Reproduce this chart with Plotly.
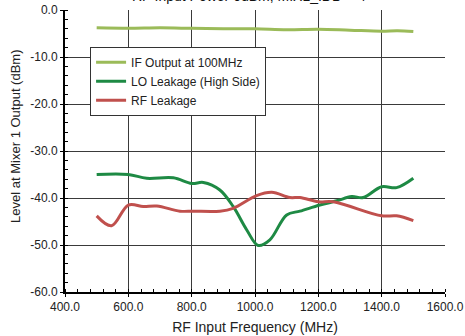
"""Mixer 1 output level vs RF input frequency."""

import plotly.graph_objects as go

# IF output at 100 MHz
if_freq = [500, 600, 700, 800, 900, 1000, 1100, 1200, 1300, 1400, 1450, 1500]
if_level = [-3.8, -3.9, -3.8, -3.9, -4.0, -4.0, -4.2, -4.1, -4.3, -4.5, -4.4, -4.6]

# LO leakage (high side)
lo_freq = [500, 600, 658, 742, 800, 837, 889, 931, 974, 1010, 1047, 1100, 1142,
           1205, 1258, 1305, 1342, 1400, 1447, 1500]
lo_level = [-35.0, -35.0, -35.8, -35.7, -36.9, -36.7, -38.3, -41.8, -46.8, -50.1,
            -48.9, -43.6, -42.8, -41.5, -40.6, -39.7, -39.9, -37.6, -37.8, -35.8]

# RF leakage
rf_freq = [500, 547, 600, 647, 690, 763, 804, 889, 931, 1005, 1053, 1110, 1142,
           1200, 1247, 1400, 1447, 1500]
rf_level = [-43.8, -45.9, -41.5, -41.8, -41.7, -42.8, -42.8, -42.8, -42.2, -39.5,
            -38.8, -39.9, -39.9, -40.8, -40.8, -43.8, -43.8, -44.8]

x_ticks = [400, 600, 800, 1000, 1200, 1400, 1600]
x_ticktext = ['400.0', '600.0', '800.0', '1000.0', '1200.0', '1400.0', '1600.0']
y_ticks = [0, -10, -20, -30, -40, -50, -60]
y_ticktext = ['0.0', '-10.0', '-20.0', '-30.0', '-40.0', '-50.0', '-60.0']

IF_GREEN = '#9BBB59'
LO_GREEN = '#1E8A44'
RF_RED = '#C0504D'
GRID = '#3a3a3a'
FONT = 'Liberation Sans, Arial, sans-serif'

fig = go.Figure()
fig.add_trace(go.Scatter(x=if_freq, y=if_level, mode='lines', name='IF Output at 100MHz',
                         line=dict(color=IF_GREEN, width=3, shape='spline')))
fig.add_trace(go.Scatter(x=lo_freq, y=lo_level, mode='lines', name='LO Leakage (High Side)',
                         line=dict(color=LO_GREEN, width=3, shape='spline')))
fig.add_trace(go.Scatter(x=rf_freq, y=rf_level, mode='lines', name='RF Leakage',
                         line=dict(color=RF_RED, width=3, shape='spline')))

# title sits mostly above the visible page, as in the original export
fig.add_annotation(text='RF Input Power 0dBm, MIX1_IDD = 4', xref='paper', yref='paper',
                   x=0.484, y=1.013, xanchor='center', yanchor='bottom', showarrow=False,
                   font=dict(size=14, color='#111'))
# y axis title placed by hand
fig.add_annotation(text='Level at Mixer 1 Output (dBm)', xref='paper', yref='paper',
                   x=-0.132, y=0.553, xanchor='center', yanchor='middle', textangle=-90,
                   showarrow=False, font=dict(size=13, color='#222'))

fig.update_layout(
    width=465, height=336,
    margin=dict(l=65, r=20, t=10, b=44),
    paper_bgcolor='white', plot_bgcolor='white',
    font=dict(family=FONT, size=12, color='#222'),
    showlegend=True,
    legend=dict(x=0.066, y=0.87, xanchor='left', yanchor='top',
                bgcolor='white', bordercolor='#333', borderwidth=1,
                font=dict(size=12), tracegroupgap=0),
    xaxis=dict(
        range=[400, 1600], tickvals=x_ticks, ticktext=x_ticktext, automargin=False,
        showgrid=True, gridcolor=GRID, gridwidth=1,
        showline=True, linecolor='black', linewidth=2, mirror=False,
        ticks='outside', ticklen=3, tickcolor='black',
        minor=dict(dtick=40, ticks='inside', ticklen=3, tickcolor='black', showgrid=False),
        title=dict(text='RF Input Frequency (MHz)', font=dict(size=14), standoff=9),
        zeroline=False,
    ),
    yaxis=dict(
        range=[-60, 0], tickvals=y_ticks, ticktext=y_ticktext, automargin=False,
        showgrid=True, gridcolor=GRID, gridwidth=1,
        showline=True, linecolor='black', linewidth=2, mirror=False,
        ticks='outside', ticklen=3, tickcolor='black',
        minor=dict(dtick=2, ticks='inside', ticklen=3, tickcolor='black', showgrid=False),
        zeroline=False,
    ),
)

# drop the default body margin so the chart fills the window exactly
fig.write_html('out.html', config={'displayModeBar': False},
               post_script="document.body.style.margin='0';")
